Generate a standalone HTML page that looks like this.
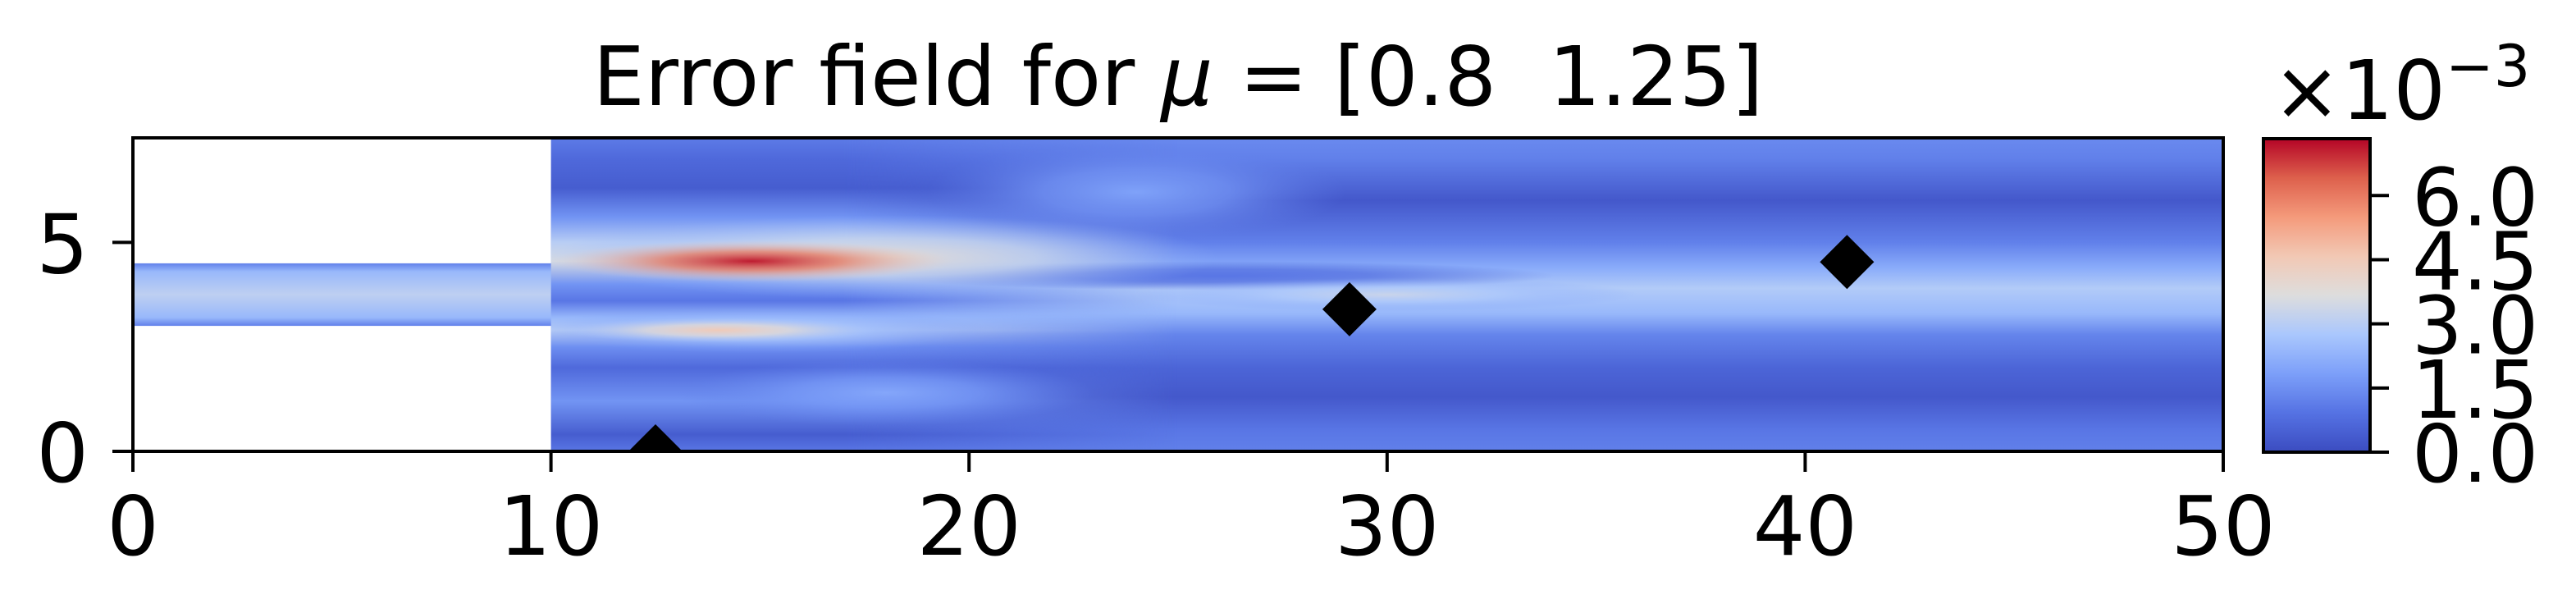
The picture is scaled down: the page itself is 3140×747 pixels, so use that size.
<!DOCTYPE html>
<html><head><meta charset="utf-8"><style>
html,body{margin:0;padding:0;background:#fff;width:3140px;height:747px;overflow:hidden}
svg{display:block}
text{font-family:"DejaVu Sans","Liberation Sans",sans-serif;fill:#000}
</style></head><body>
<svg id="chart" width="3140" height="747" viewBox="0 0 3140 747" xmlns="http://www.w3.org/2000/svg">
<defs>
<clipPath id="domain"><path d="M0 0"/></clipPath>
</defs>
<g id="field"></g>
<g id="axes"></g>
<text x="1436" y="128" font-size="100" text-anchor="middle" style="white-space:pre">Error field for <tspan font-style="italic">μ</tspan> = [0.8&#160; 1.25]</text>
</svg>
<script>
// ---- data ----
const xTicks = [0, 10, 20, 30, 40, 50];
const yTicks = [0, 5];
const cbTicks = [0.0, 1.5, 3.0, 4.5, 6.0];
const cbTickLabels = ["0.0", "1.5", "3.0", "4.5", "6.0"];
const vMax = 7.33;
// downstream vertical error profile (x >= 20), values in 1e-3
const rightProfileY = [7.5, 7.0, 6.0, 5.0, 4.4, 3.9, 3.3, 2.8, 2.0, 1.3, 0.5, 0.0];
const rightProfileV = [1.4, 1.2, 0.3, 1.2, 2.1, 2.9, 2.4, 1.3, 0.6, 0.3, 1.0, 1.2];
// near-step vertical profile (x ~ 10-18)
const leftProfileY = [7.5, 7.0, 6.3, 5.6, 5.0, 4.55, 4.0, 3.6, 3.2, 2.9, 2.5, 2.0, 1.2, 0.4, 0.0];
const leftProfileV = [1.1, 0.7, 0.4, 1.6, 3.0, 3.5, 1.6, 1.0, 2.4, 3.0, 1.5, 0.7, 1.6, 0.4, 1.0];
// inlet channel profile
const inletY = [4.5, 4.3, 3.75, 3.2, 3.0];
const inletV = [1.2, 2.4, 3.1, 2.4, 1.2];
// error blobs: centre x, centre y, radius x, radius y, value
const blobX  = [24,  18,  26,  18,  14.8, 15,  14,  30];
const blobY  = [6.2, 1.4, 4.2, 4.65, 4.55, 2.9, 2.9, 3.75];
const blobRX = [5,   5,   8,   8,   4.8,  5.5, 3.8, 6];
const blobRY = [1.2, 0.8, 0.35,1.0, 0.5,  0.55,0.3, 0.4];
const blobV  = [1.9, 2.0, 1.0, 3.8, 7.1,  3.0, 4.5, 3.3];
// sensor markers
const markerX = [12.5, 29.1, 41.0];
const markerY = [0.0, 3.4, 4.53];

// ---- scales ----
const X0 = 162, X1 = 2710, Y0 = 550, Y1 = 168;
const sx = v => X0 + (v - 0) / 50 * (X1 - X0);
const sy = v => Y0 - (v - 0) / 7.5 * (Y0 - Y1);
const CB_L = 2759, CB_R = 2889, CB_B = 551, CB_T = 169;
const cy = v => CB_B - v / vMax * (CB_B - CB_T);

const cmapStops = [[59,76,192],[85,114,227],[124,159,249],[170,199,253],[221,221,221],[242,200,180],[244,154,123],[221,96,76],[180,4,38]];
function cmap(v){
  let t = Math.max(0, Math.min(1, v / vMax)) * (cmapStops.length - 1);
  let i = Math.min(cmapStops.length - 2, Math.floor(t)), f = t - i;
  const a = cmapStops[i], b = cmapStops[i+1];
  return `rgb(${a.map((c,k)=>Math.round(c+(b[k]-c)*f)).join(',')})`;
}
const NS = 'http://www.w3.org/2000/svg';
function el(tag, attrs, parent){
  const e = document.createElementNS(NS, tag);
  for (const k in attrs) e.setAttribute(k, attrs[k]);
  parent.appendChild(e); return e;
}
const svg = document.getElementById('chart');
const defs = svg.querySelector('defs');
const field = document.getElementById('field');
const axes = document.getElementById('axes');

function vGrad(id, ys, vs, y0px, y1px){
  const g = el('linearGradient', {id: id, gradientUnits: 'userSpaceOnUse', x1: 0, x2: 0, y1: y0px, y2: y1px}, defs);
  ys.forEach((y, i) => {
    el('stop', {offset: ((sy(y) - y0px) / (y1px - y0px)).toFixed(4), 'stop-color': cmap(vs[i])}, g);
  });
}
// domain clip
const clip = defs.querySelector('#domain path');
clip.setAttribute('d', `M${sx(0)} ${sy(4.5)} H${sx(10)} V${sy(7.5)} H${sx(50)} V${sy(0)} H${sx(10)} V${sy(3)} H${sx(0)} Z`);
const clipped = el('g', {'clip-path': 'url(#domain)'}, field);

// inlet
vGrad('gInlet', inletY, inletV, sy(4.5), sy(3));
const inlet = el('rect', {x: sx(0), y: sy(4.5), width: sx(10.5) - sx(0), height: sy(3) - sy(4.5), fill: 'url(#gInlet)'}, clipped);



// downstream profile
vGrad('gRight', rightProfileY, rightProfileV, sy(7.5), sy(0));
const main = el('rect', {x: sx(10), y: sy(7.5), width: sx(50) - sx(10), height: sy(0) - sy(7.5), fill: 'url(#gRight)'}, clipped);



// left profile with horizontal fade
vGrad('gLeft', leftProfileY, leftProfileV, sy(7.5), sy(0));
const fade = el('linearGradient', {id: 'gFade', gradientUnits: 'userSpaceOnUse', x1: sx(17), x2: sx(25), y1: 0, y2: 0}, defs);
el('stop', {offset: 0, 'stop-color': '#fff', 'stop-opacity': 1}, fade);
el('stop', {offset: 1, 'stop-color': '#fff', 'stop-opacity': 0}, fade);
const mask = el('mask', {id: 'mFade', maskUnits: 'userSpaceOnUse', x: 0, y: 0, width: 3140, height: 747}, defs);
el('rect', {x: sx(10), y: sy(7.5), width: sx(50) - sx(10), height: sy(0) - sy(7.5), fill: 'url(#gFade)'}, mask);
const left = el('rect', {x: sx(10), y: sy(7.5), width: sx(26) - sx(10), height: sy(0) - sy(7.5), fill: 'url(#gLeft)', mask: 'url(#mFade)'}, clipped);



// blobs
blobX.forEach((bx, i) => {
  const id = 'rb' + i;
  const rg = el('radialGradient', {id: id}, defs);
  el('stop', {offset: 0, 'stop-color': cmap(blobV[i]), 'stop-opacity': 1}, rg);
  el('stop', {offset: 0.45, 'stop-color': cmap(blobV[i] * 0.85), 'stop-opacity': 0.75}, rg);
  el('stop', {offset: 1, 'stop-color': cmap(blobV[i] * 0.6), 'stop-opacity': 0}, rg);
  const e = el('ellipse', {cx: sx(bx), cy: sy(blobY[i]), rx: sx(blobRX[i]) - sx(0), ry: sy(0) - sy(blobRY[i]), fill: `url(#${id})`}, clipped);
  
  
});

// markers
markerX.forEach((mx, i) => {
  const px = sx(mx), py = sy(markerY[i]), r = 33;
  const d = el('path', {d: `M${px} ${py - r} L${px + r} ${py} L${px} ${py + r} L${px - r} ${py} Z`, fill: '#000'}, field);
  
  
});
el('rect', {x: 0, y: Y0 + 2, width: X1 + 10, height: 60, fill: '#fff'}, field);

// axes frame
const frame = el('rect', {x: X0, y: Y1, width: X1 - X0, height: Y0 - Y1, fill: 'none', stroke: '#000', 'stroke-width': 4}, axes);


xTicks.forEach(t => {
  const l = el('line', {x1: sx(t), x2: sx(t), y1: Y0, y2: Y0 + 25, stroke: '#000', 'stroke-width': 4}, axes);
  
  
  const tx = el('text', {x: sx(t), y: 676, 'font-size': 100, 'text-anchor': 'middle'}, axes);
  tx.textContent = String(t);
  
  
});
yTicks.forEach(t => {
  const l = el('line', {x1: X0 - 25, x2: X0, y1: sy(t), y2: sy(t), stroke: '#000', 'stroke-width': 4}, axes);
  
  
  const tx = el('text', {x: 108, y: sy(t) + 37, 'font-size': 100, 'text-anchor': 'end'}, axes);
  tx.textContent = String(t);
  
  
});

// colorbar
const cg = el('linearGradient', {id: 'gCb', x1: 0, x2: 0, y1: 1, y2: 0}, defs);
for (let k = 0; k <= 16; k++) el('stop', {offset: k / 16, 'stop-color': cmap(vMax * k / 16)}, cg);
const cb = el('rect', {x: CB_L, y: CB_T, width: CB_R - CB_L, height: CB_B - CB_T, fill: 'url(#gCb)', stroke: '#000', 'stroke-width': 4}, axes);


cbTicks.forEach((t, i) => {
  const l = el('line', {x1: CB_R, x2: CB_R + 23, y1: cy(t), y2: cy(t), stroke: '#000', 'stroke-width': 4}, axes);
  
  
  const tx = el('text', {x: 2940, y: cy(t) + 36, 'font-size': 97}, axes);
  tx.textContent = cbTickLabels[i];
  
  
});
const off = el('text', {x: 2770, y: 145, 'font-size': 100}, axes);


off.innerHTML = '×10<tspan dy="-40" font-size="70">−3</tspan>';
</script>
</body></html>
